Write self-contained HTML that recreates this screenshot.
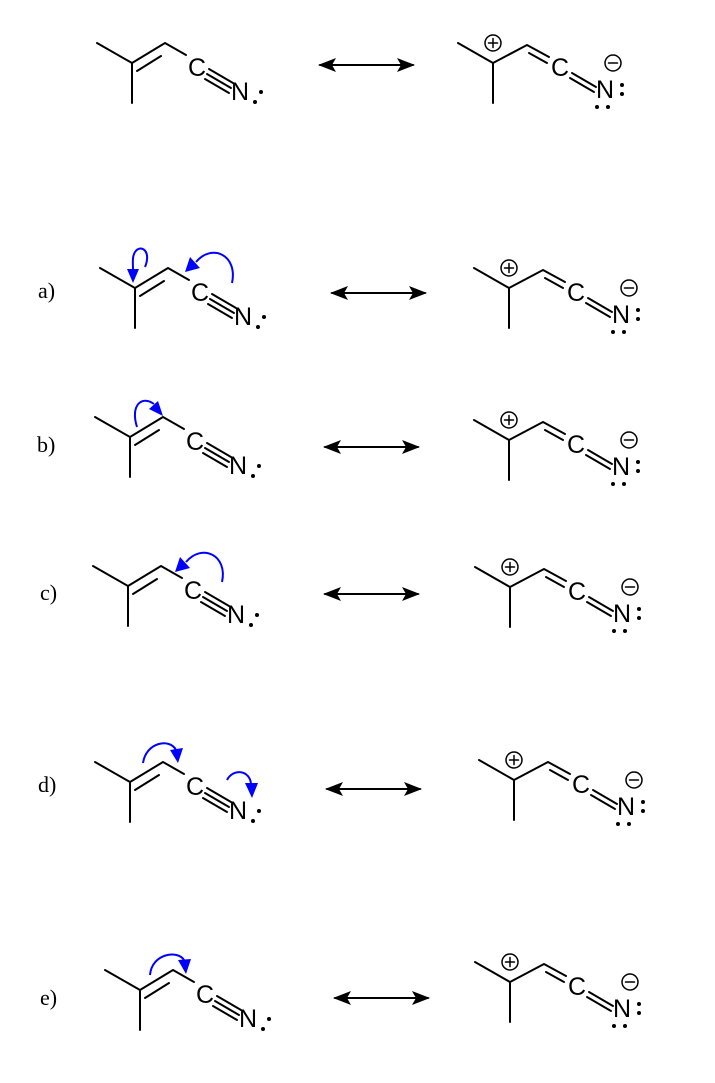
<!DOCTYPE html>
<html><head><meta charset="utf-8"><style>
html,body{margin:0;padding:0;background:#fff;}
svg{display:block;}
.b{stroke:#000;stroke-width:2;fill:none;stroke-linecap:round;stroke-linejoin:round}
.at{font-family:"Liberation Sans",Arial,sans-serif;font-size:25px;fill:#000;text-anchor:middle;dominant-baseline:central}
.lb{font-family:"Liberation Serif",serif;font-size:22px;fill:#000}
.cu{stroke:#0000ff;stroke-width:2;fill:none}
.hd{fill:#0000ff}
.ch{stroke:#000;stroke-width:1.5;fill:#fff}
</style></head><body>
<svg width="715" height="1083" viewBox="0 0 715 1083" xmlns="http://www.w3.org/2000/svg">
<defs>
<g id="L">
<path class="b" d="M0 0 L35 20 L35 60 M35 20 L68 0 L89 12 M40 28 L64 13"/>
<path class="b" d="M112 26 L136 40 M110 31 L134 45 M108 36 L132 50"/>
<circle cx="164" cy="49" r="2" fill="#000"/><circle cx="158" cy="59" r="2" fill="#000"/>
</g>
<g id="R">
<path class="b" d="M0 0 L35 20 L35 60 M35 20 L69 2 L91 14 M71 10 L89 20"/>
<path class="b" d="M114 30 L138 44 M112 35 L136 49"/>
<circle cx="35" cy="0" r="8" class="ch"/>
<path class="b" style="stroke-width:1.5" d="M30.5 0 H39.5 M35 -4.5 V4.5"/>
<circle cx="155" cy="20" r="8" class="ch"/>
<path class="b" style="stroke-width:1.5" d="M150.5 20 H159.5"/>
<circle cx="164" cy="42" r="2" fill="#000"/><circle cx="164" cy="51" r="2" fill="#000"/>
<circle cx="139" cy="64" r="2" fill="#000"/><circle cx="150" cy="64" r="2" fill="#000"/>
</g>
<g id="A">
<path class="b" d="M2 0 H95"/>
<path d="M0 0 L18 -7 L14 0 L18 7 Z M97 0 L79 -7 L83 0 L79 7 Z" fill="#000"/>
</g>
</defs>

<use href="#L" x="97" y="43"/>
<text class="at" x="197" y="68">C</text><text class="at" x="240" y="92">N</text>
<use href="#R" x="458" y="43"/>
<text class="at" x="560" y="68">C</text><text class="at" x="605" y="90">N</text>
<use href="#A" x="318" y="65"/>

<text class="lb" x="38" y="298">a)</text>
<use href="#L" x="100" y="268"/>
<text class="at" x="200" y="293">C</text><text class="at" x="243" y="317">N</text>
<path class="cu" d="M145 267 C152 250 140 244 135 252 C132 257 133 262 133 270"/>
<path class="hd" d="M127 269 L133 283 L139 269 Z"/>
<path class="cu" d="M232 283 C238 255 212 243 196 262"/>
<path class="hd" d="M190 257 L185 272 L200 268 Z"/>
<use href="#R" x="474" y="268"/>
<text class="at" x="576" y="293">C</text><text class="at" x="621" y="315">N</text>
<use href="#A" x="330" y="293"/>

<text class="lb" x="37" y="452">b)</text>
<use href="#L" x="95" y="417"/>
<text class="at" x="195" y="442">C</text><text class="at" x="238" y="466">N</text>
<path class="cu" d="M137 427 C130 405 142 395 154 404"/>
<path class="hd" d="M149 409 L163 416 L158 401 Z"/>
<use href="#R" x="474" y="420"/>
<text class="at" x="576" y="445">C</text><text class="at" x="621" y="467">N</text>
<use href="#A" x="323" y="447"/>

<text class="lb" x="40" y="600">c)</text>
<use href="#L" x="93" y="566"/>
<text class="at" x="193" y="591">C</text><text class="at" x="236" y="615">N</text>
<path class="cu" d="M222 582 C228 555 202 543 186 562"/>
<path class="hd" d="M180 557 L175 572 L190 568 Z"/>
<use href="#R" x="475" y="567"/>
<text class="at" x="577" y="592">C</text><text class="at" x="622" y="614">N</text>
<use href="#A" x="323" y="594"/>

<text class="lb" x="38" y="792">d)</text>
<use href="#L" x="95" y="762"/>
<text class="at" x="195" y="787">C</text><text class="at" x="238" y="811">N</text>
<path class="cu" d="M143 763 C146 742 170 738 176 750"/>
<path class="hd" d="M170 750 L178 763 L183 748 Z"/>
<path class="cu" d="M227 780 C233 768 250 770 251 784"/>
<path class="hd" d="M245 783 L252 798 L258 783 Z"/>
<use href="#R" x="479" y="760"/>
<text class="at" x="581" y="785">C</text><text class="at" x="626" y="807">N</text>
<use href="#A" x="325" y="789"/>

<text class="lb" x="40" y="1005">e)</text>
<use href="#L" x="105" y="970"/>
<text class="at" x="205" y="995">C</text><text class="at" x="248" y="1019">N</text>
<path class="cu" d="M150 975 C152 953 178 950 184 960"/>
<path class="hd" d="M178 960 L186 974 L191 959 Z"/>
<use href="#R" x="475" y="962"/>
<text class="at" x="577" y="987">C</text><text class="at" x="622" y="1009">N</text>
<use href="#A" x="333" y="998"/>
</svg>
</body></html>
